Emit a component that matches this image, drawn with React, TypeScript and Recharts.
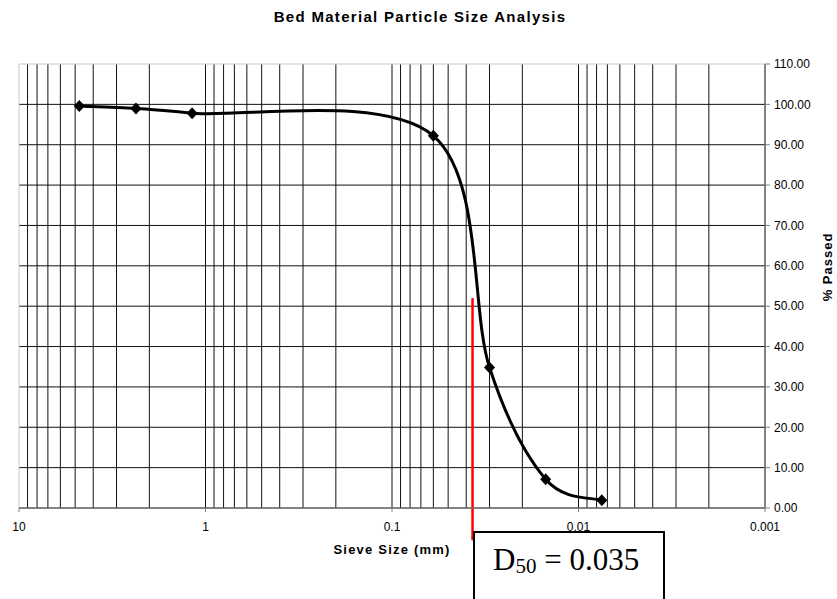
import { LineChart, Line, XAxis, YAxis, CartesianGrid, ReferenceLine, Label } from 'recharts';

// sieve / hydrometer results
const sieveSizes = [4.75, 2.36, 1.18, 0.06, 0.03, 0.015, 0.0075];
const percentPassed = [99.6, 99.0, 97.8, 92.2, 34.8, 7.1, 1.9];

const decadeTicks = [10, 1, 0.1, 0.01, 0.001];
const percentTicks = [0, 10, 20, 30, 40, 50, 60, 70, 80, 90, 100, 110];
const minorMultipliers = [1, 2, 3, 4, 5, 6, 7, 8, 9];
const gridDecades = [0.001, 0.01, 0.1, 1];

const d50Size = 0.037;
const d50Top = 52;
const d50Bottom = -8;
const d50Text = '0.035';

const data = sieveSizes.map((size, i) => ({ size, passed: percentPassed[i] }));

// vertical grid on every log minor step (the 10 edge gets a light border instead)
const verticalGrid = gridDecades.flatMap((d) =>
  minorMultipliers.map((m) => Number((m * d).toPrecision(3)))
);
const horizontalGrid = percentTicks.filter((t) => t < 110);

// Excel style smoothing: cubic bezier through every point (catmull-rom, 1/6 tangents)
function excelSmooth(context: any) {
  let pts: number[][] = [];
  return {
    areaStart() {},
    areaEnd() {},
    lineStart() {
      pts = [];
    },
    point(x: number, y: number) {
      pts.push([+x, +y]);
    },
    lineEnd() {
      const n = pts.length;
      if (!n) return;
      context.moveTo(pts[0][0], pts[0][1]);
      for (let i = 0; i < n - 1; i++) {
        const p0 = pts[Math.max(i - 1, 0)];
        const p1 = pts[i];
        const p2 = pts[i + 1];
        const p3 = pts[Math.min(i + 2, n - 1)];
        context.bezierCurveTo(
          p1[0] + (p2[0] - p0[0]) / 6,
          p1[1] + (p2[1] - p0[1]) / 6,
          p2[0] - (p3[0] - p1[0]) / 6,
          p2[1] - (p3[1] - p1[1]) / 6,
          p2[0],
          p2[1]
        );
      }
    },
  };
}

const Diamond = (props: any) => {
  const { cx, cy } = props;
  if (cx == null || cy == null) return null;
  return (
    <path
      key={`dia-${props.index}`}
      d={`M${cx},${cy - 6}L${cx + 5.5},${cy}L${cx},${cy + 6}L${cx - 5.5},${cy}Z`}
      fill="#000"
    />
  );
};

const axisFont = { fontSize: 12, fill: '#000', fontFamily: '"Liberation Sans", Arial, sans-serif' };

export default function App() {
  return (
    <div
      style={{
        position: 'absolute',
        left: 0,
        top: 0,
        width: 837,
        height: 599,
        overflow: 'hidden',
        background: '#fff',
        fontFamily: '"Liberation Sans", Arial, sans-serif',
      }}
    >
      <div
        style={{
          position: 'absolute',
          top: 9,
          left: 0,
          width: 840,
          textAlign: 'center',
          fontSize: 15,
          fontWeight: 'bold',
          letterSpacing: 1.3,
          lineHeight: '16px',
          color: '#000',
        }}
      >
        Bed Material Particle Size Analysis
      </div>

      <LineChart width={837} height={599} data={data} margin={{ top: 64, left: 19, right: 0, bottom: 0 }}>
        <CartesianGrid
          stroke="#111"
          strokeWidth={1}
          verticalValues={verticalGrid}
          horizontalValues={horizontalGrid}
        />
        <XAxis
          dataKey="size"
          type="number"
          scale="log"
          domain={[0.001, 10]}
          reversed
          allowDataOverflow
          ticks={decadeTicks}
          tickFormatter={(v: number) => String(v)}
          interval={0}
          height={91}
          tickSize={4}
          tickMargin={10}
          stroke="#808080"
          tick={axisFont}
        >
          <Label
            content={({ viewBox }: any) => (
              <text
                x={viewBox.x + viewBox.width / 2}
                y={viewBox.y + 46}
                textAnchor="middle"
                fontSize={13}
                fontWeight="bold"
                letterSpacing={1.2}
                fill="#000"
              >
                Sieve Size (mm)
              </text>
            )}
          />
        </XAxis>
        <YAxis
          orientation="right"
          type="number"
          domain={[0, 110]}
          ticks={percentTicks}
          interval={0}
          allowDataOverflow
          tickFormatter={(v: number) => v.toFixed(2)}
          width={72}
          tickSize={5}
          tickMargin={4}
          stroke="#808080"
          tick={{ ...axisFont, textAnchor: 'start' }}
        >
          <Label
            content={({ viewBox }: any) => (
              <text
                x={viewBox.x + 67}
                y={viewBox.y + 203}
                transform={`rotate(-90 ${viewBox.x + 67} ${viewBox.y + 203})`}
                textAnchor="middle"
                fontSize={13}
                fontWeight="bold"
                letterSpacing={1}
                fill="#000"
              >
                % Passed
              </text>
            )}
          />
        </YAxis>
        <ReferenceLine x={10} stroke="#c8c8c8" strokeWidth={1} />
        <ReferenceLine y={110} stroke="#c8c8c8" strokeWidth={1} />
        <Line
          dataKey="passed"
          type={excelSmooth as any}
          stroke="#000"
          strokeWidth={3}
          dot={(p: any) => <Diamond key={`d-${p.index}`} {...p} />}
          activeDot={false}
          isAnimationActive={false}
        />
        <ReferenceLine
          segment={[
            { x: d50Size, y: d50Top },
            { x: d50Size, y: d50Bottom },
          ]}
          stroke="#ff0000"
          strokeWidth={2.5}
          ifOverflow="visible"
        />
      </LineChart>

      <div
        style={{
          position: 'absolute',
          left: 473,
          top: 531,
          width: 192,
          height: 90,
          border: '2px solid #000',
          background: '#fff',
          fontFamily: '"Liberation Serif", "Times New Roman", serif',
          fontSize: 31,
          color: '#000',
          boxSizing: 'border-box',
          paddingLeft: 18,
          paddingTop: 10,
          lineHeight: '34px',
          whiteSpace: 'nowrap',
        }}
      >
        D<sub style={{ fontSize: 21, verticalAlign: '-3px' }}>50</sub> = {d50Text}
      </div>
    </div>
  );
}
